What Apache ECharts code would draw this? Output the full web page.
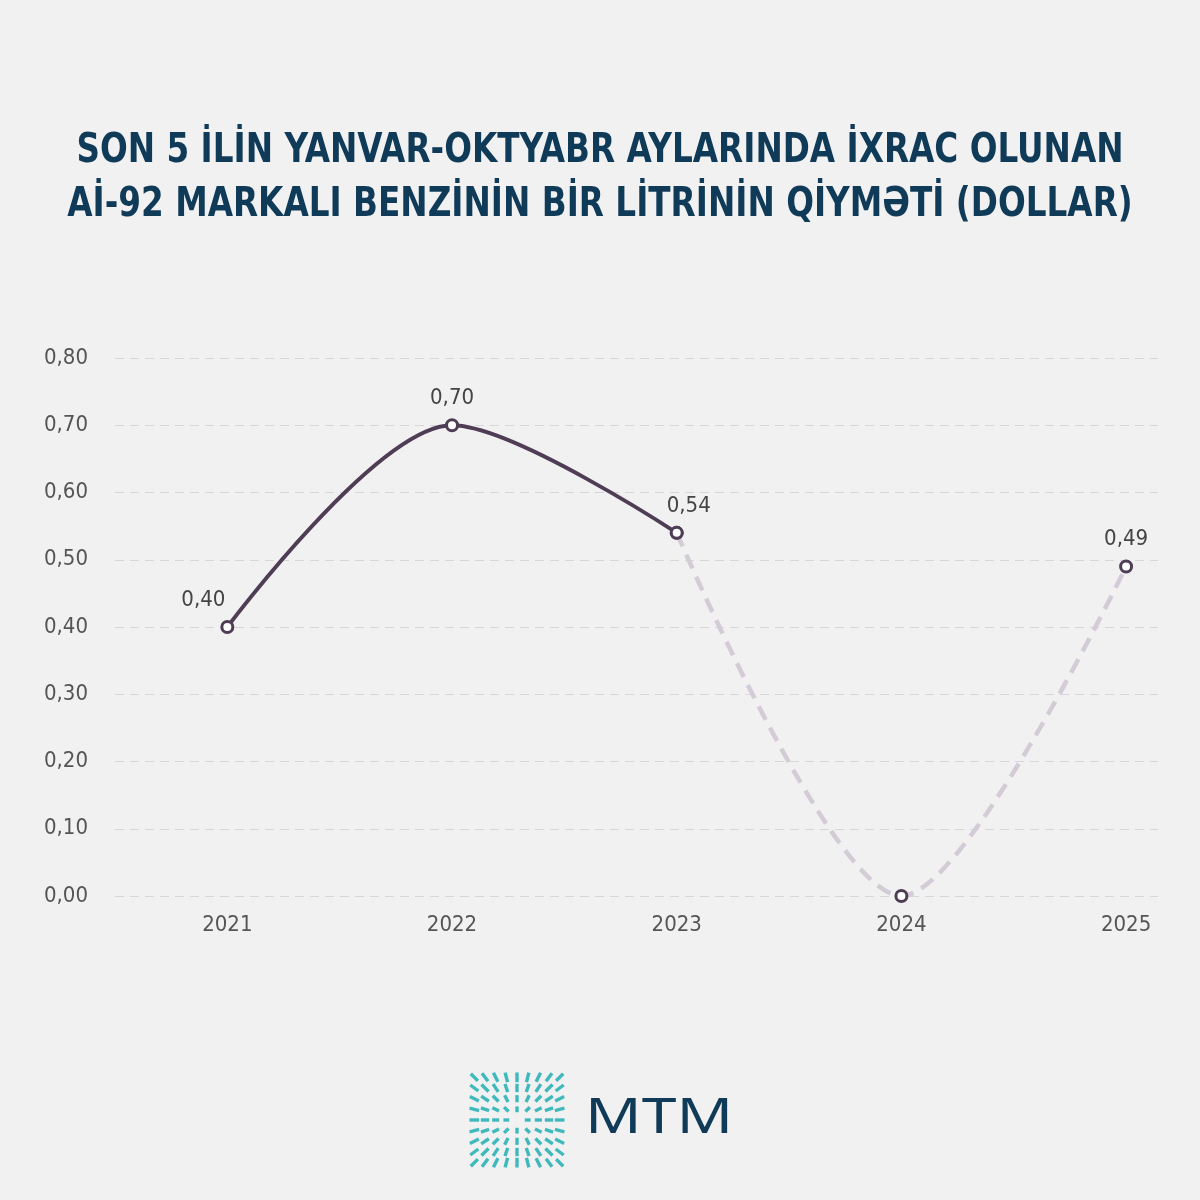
<!DOCTYPE html>
<html>
<head>
<meta charset="utf-8">
<script src="https://cdn.jsdelivr.net/npm/echarts@6/dist/echarts.min.js"></script>
<style>
html,body{margin:0;padding:0;background:#f1f1f1;}
#c{width:1200px;height:1200px;}
</style>
</head>
<body>
<div id="c"></div>
<script>
const years = [2021, 2022, 2023, 2024, 2025];
const prices = [0.40, 0.70, 0.54, 0.00, 0.49];
const yTicks = [0, 0.1, 0.2, 0.3, 0.4, 0.5, 0.6, 0.7, 0.8];
const titleLines = ['SON 5 İLİN YANVAR-OKTYABR AYLARINDA İXRAC OLUNAN', 'Aİ-92 MARKALI BENZİNİN BİR LİTRİNİN QİYMƏTİ (DOLLAR)'];
const solidIdx = [0, 1, 2];
const dashedIdx = [2, 3, 4];

const FONT = '"DejaVu Sans Condensed","Liberation Sans Narrow","Roboto",sans-serif';
const fmt = v => v.toFixed(2).replace('.', ',');

const labelOffsets = {0: [-24, 0], 2: [12, 0]};
const solidData = solidIdx.map(i => ({
  value: [years[i], prices[i]],
  label: { show: true, offset: labelOffsets[i] || [0, 0] }
}));
const dashedData = dashedIdx.map(i => ({
  value: [years[i], prices[i]],
  label: { show: i !== 2 && prices[i] !== 0 }
}));

// logo icon dashes (decoration)
const logoEls = [];
const lx = 469, ly = 1072, ls = 96, n = 9;
const cell = ls / n;
for (let r = 0; r < n; r++) {
  for (let c = 0; c < n; c++) {
    const cx = lx + (c + 0.5) * cell;
    const cy = ly + (r + 0.5) * cell;
    const dx = c - 4, dy = r - 4;
    if (dx === 0 && dy === 0) continue;
    const ang = Math.atan2(dy, dx);
    const len = Math.min(10, 4.5 + Math.hypot(dx, dy) * 1.3);
    logoEls.push({
      type: 'rect',
      x: cx, y: cy,
      rotation: -ang,
      shape: { x: -len / 2, y: -1.7, width: len, height: 3.4 },
      style: { fill: '#2bb3b6', opacity: 0.9 }
    });
  }
}

const titleEls = titleLines.map((t, i) => ({
  type: 'text',
  x: 600, y: 151 + i * 54,
  scaleX: 0.886,
  style: {
    x: 0, y: 0,
    text: t,
    textAlign: 'center',
    textVerticalAlign: 'middle',
    font: 'bold 41px "DejaVu Sans Condensed","DejaVu Sans",sans-serif',
    fill: '#0f3a58'
  }
}));

const chart = echarts.init(document.getElementById('c'), null, { renderer: 'canvas' });
chart.setOption({
  backgroundColor: '#f1f1f1',
  animation: false,
  grid: { left: 115, right: 42, top: 358, bottom: 304, containLabel: false },
  xAxis: {
    type: 'value',
    min: 2020.5,
    max: 2025.142,
    axisLine: { show: false },
    axisTick: { show: false },
    splitLine: { show: false },
    axisLabel: {
      customValues: years,
      formatter: v => String(v),
      margin: 18,
      fontFamily: FONT,
      fontSize: 22,
      color: '#555'
    }
  },
  yAxis: {
    type: 'value',
    min: 0,
    max: 0.8,
    interval: 0.1,
    axisLine: { show: false },
    axisTick: { show: false },
    axisLabel: {
      formatter: v => fmt(v),
      margin: 27,
      fontFamily: FONT,
      fontSize: 22,
      color: '#555'
    },
    splitLine: { lineStyle: { color: '#d9d6d9', type: [9, 6], width: 1 } }
  },
  series: [
    {
      type: 'line',
      data: dashedData,
      smooth: 0.3,
      z: 2,
      lineStyle: { color: '#d3cbd5', width: 4.5, type: [15, 9] },
      symbol: 'circle',
      symbolSize: 11,
      itemStyle: { color: '#ffffff', borderColor: '#4e3d54', borderWidth: 3 },
      label: {
        position: 'top', distance: 9, formatter: p => fmt(p.value[1]),
        fontFamily: FONT, fontSize: 22, color: '#444'
      }
    },
    {
      type: 'line',
      data: solidData,
      smooth: 0.3,
      z: 3,
      lineStyle: { color: '#4e3d54', width: 3.8 },
      symbol: 'circle',
      symbolSize: 11,
      itemStyle: { color: '#ffffff', borderColor: '#4e3d54', borderWidth: 3 },
      label: {
        position: 'top', distance: 9, formatter: p => fmt(p.value[1]),
        fontFamily: FONT, fontSize: 22, color: '#444'
      }
    }
  ],
  graphic: [
    { type: 'group', children: titleEls },
    { type: 'group', children: logoEls },
    {
      type: 'text',
      x: 585, y: 1119,
      scaleX: 1.25,
      style: {
        x: 0, y: 0,
        text: 'MTM',
        textVerticalAlign: 'middle',
        font: '400 50px "Noto Sans","Open Sans",sans-serif',
        fill: '#0f3a58'
      }
    }
  ]
});
</script>
</body>
</html>
